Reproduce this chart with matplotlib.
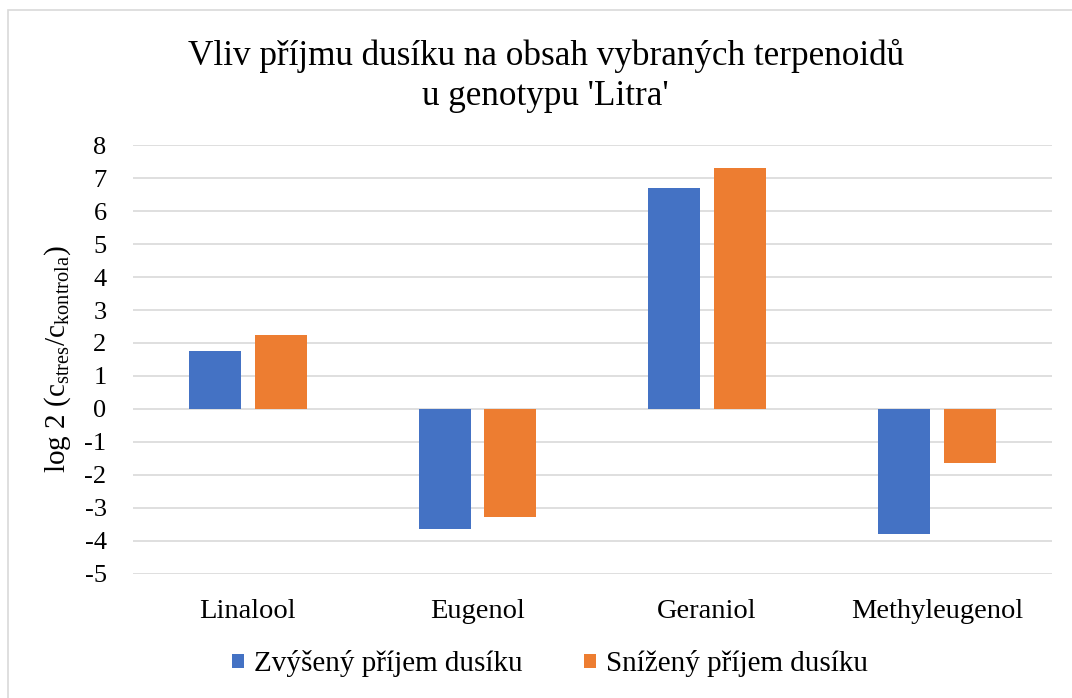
import matplotlib
matplotlib.use("Agg")
import numpy as np
import matplotlib.pyplot as plt
from matplotlib.patches import Rectangle

plt.rcParams['font.family'] = ['Liberation Serif', 'DejaVu Serif']
plt.rcParams['mathtext.fontset'] = 'custom'
plt.rcParams['mathtext.rm'] = 'Liberation Serif'
plt.rcParams['mathtext.it'] = 'Liberation Serif:italic'

categories = ['Linalool', 'Eugenol', 'Geraniol', 'Methyleugenol']
zvyseny = [1.77, -3.63, 6.69, -3.80]
snizeny = [2.24, -3.29, 7.31, -1.63]
series_names = ['Zvýšený příjem dusíku', 'Snížený příjem dusíku']
yticks = list(range(-5, 9))
ytick_labels = [str(v) for v in yticks]

blue = '#4472C4'
orange = '#ED7D31'
grid_col = '#D9D9D9'

fig = plt.figure(figsize=(10.72, 6.98), dpi=100)
ax = fig.add_axes([0.124, 0.178, 0.857, 0.614])

x = np.arange(len(categories))
w = 0.227
off = 0.143
ax.bar(x - off, zvyseny, w, color=blue, label=series_names[0], zorder=3)
ax.bar(x + off, snizeny, w, color=orange, label=series_names[1], zorder=3)

ax.set_xlim(-0.5, len(categories) - 0.5)
ax.set_ylim(-5, 8)
ax.set_yticks(yticks)
ax.set_yticklabels(ytick_labels, fontsize=19)
ax.set_xticks(x)
ax.set_xticklabels(categories, fontsize=20.5)
ax.tick_params(axis='both', length=0)
ax.tick_params(axis='y', pad=19)
ax.tick_params(axis='x', pad=18)
ax.yaxis.grid(True, color=grid_col, linewidth=1.2, zorder=0)
for s in ax.spines.values():
    s.set_visible(False)

ax.set_ylabel(r'log 2 (c$_{\mathregular{stres}}$/c$_{\mathregular{kontrola}}$)',
              fontsize=21, labelpad=8)

fig.text(0.509, 0.891, "Vliv příjmu dusíku na obsah vybraných terpenoidů\nu genotypu 'Litra'",
         ha='center', va='center', fontsize=25.3, linespacing=1.3)

ax.legend(loc='center', bbox_to_anchor=(0.513, 0.049), bbox_transform=fig.transFigure,
          ncol=2, frameon=False, fontsize=21, handlelength=0.4, handleheight=0.4,
          handletextpad=0.35, columnspacing=2.1)

# outer chart border (only left/top visible in the reference)
fig.patches.append(Rectangle((8 / 1072, -0.1), 1.2, 1 - 10 / 698 + 0.1,
                             transform=fig.transFigure, fill=False,
                             edgecolor='#D9D9D9', linewidth=1.2))

fig.savefig('out.png', dpi=100)
